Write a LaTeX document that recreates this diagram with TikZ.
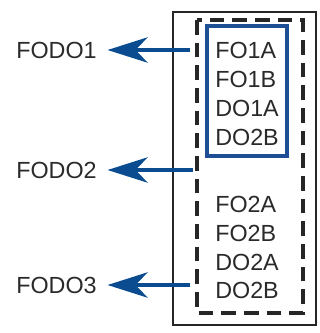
\documentclass[tikz,border=0pt]{standalone}
\usepackage{fontspec}
\setmainfont{Liberation Sans}
\usetikzlibrary{arrows.meta}
\definecolor{arrowblue}{HTML}{0A4C8F}
\definecolor{boxblue}{HTML}{1E4F95}
\definecolor{txt}{HTML}{2A2A2A}
\begin{document}
\begin{tikzpicture}[x=0.75pt,y=-0.75pt,
  lbl/.style={font=\fontsize{17.5}{20}\selectfont,text=txt,inner sep=0pt},
  conn/.style={draw=arrowblue,line width=2.6pt,-{Stealth[length=30pt,width=19pt,inset=9pt]}}]
\useasboundingbox (0,0) rectangle (320,333);
% outer box
\draw[line width=2pt,black!85] (173,12) rectangle (316,325);
% dashed box
\draw[line width=2.5pt,black!85,dash pattern=on 11pt off 6pt] (197,20) rectangle (303,313);
% blue box
\draw[line width=2.4pt,boxblue] (207,26) rectangle (287,156);
% texts inside
\node[lbl,anchor=west] (t1) at (215,50) {FO1A};
\node[lbl,anchor=west] (t2) at (215,79) {FO1B};
\node[lbl,anchor=west] (t3) at (215,108) {DO1A};
\node[lbl,anchor=west] (t4) at (215,137) {DO2B};
\node[lbl,anchor=west] (u1) at (215,204) {FO2A};
\node[lbl,anchor=west] (u2) at (215,233) {FO2B};
\node[lbl,anchor=west] (u3) at (215,262) {DO2A};
\node[lbl,anchor=west] (u4) at (215,290) {DO2B};
% outer labels
\node[lbl,anchor=west] (f1) at (16,50) {FODO1};
\node[lbl,anchor=west] (f2) at (16,170) {FODO2};
\node[lbl,anchor=west] (f3) at (16,285) {FODO3};
% connector start points
\coordinate (s1) at (190,50);
\coordinate (s2) at (193,170);
\coordinate (s3) at (190,285);
\draw[conn] (s1) -- ([xshift=8pt]f1.east);
\draw[conn] (s2) -- ([xshift=8pt]f2.east);
\draw[conn] (s3) -- ([xshift=8pt]f3.east);
\end{tikzpicture}
\end{document}
